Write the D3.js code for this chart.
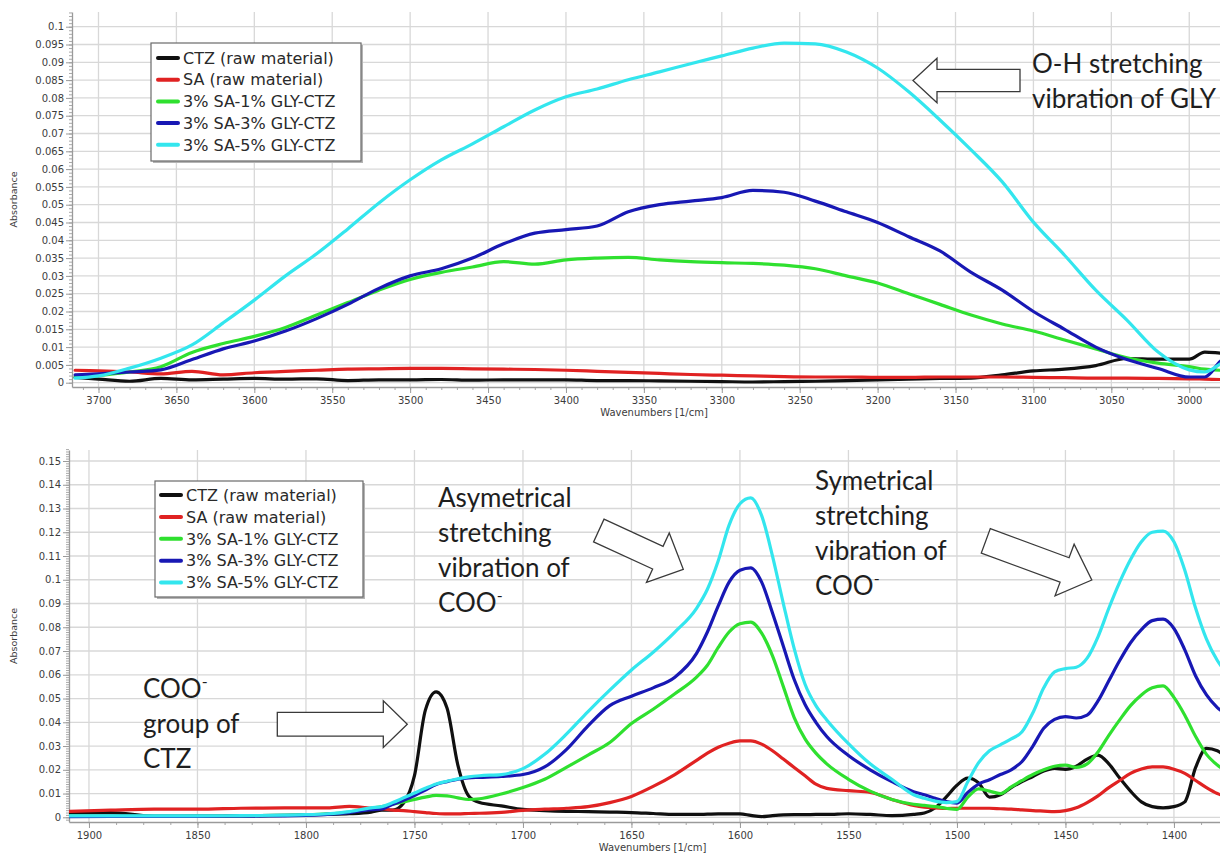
<!DOCTYPE html>
<html>
<head>
<meta charset="utf-8">
<script src="https://cdn.jsdelivr.net/npm/d3@7"></script>
<style>
  html, body { margin: 0; padding: 0; background: #ffffff; }
  svg { display: block; }
</style>
</head>
<body>
<svg id="chart" width="1220" height="856"></svg>
<script>
// ---------- series labels and colours ----------
const seriesNames = [
  "CTZ (raw material)",
  "SA (raw material)",
  "3% SA-1% GLY-CTZ",
  "3% SA-3% GLY-CTZ",
  "3% SA-5% GLY-CTZ"
];
const seriesColors = ["#101010", "#e02222", "#2fe02f", "#1818b4", "#33e6ee"];

// ---------- O-H region (upper panel) ----------
const wnTop = [
  3715, 3700, 3680, 3660, 3640, 3620, 3600, 3580, 3560, 3540,
  3520, 3500, 3480, 3460, 3440, 3420, 3400, 3380, 3360, 3340,
  3320, 3300, 3280, 3260, 3240, 3220, 3200, 3180, 3160, 3140,
  3120, 3100, 3080, 3060, 3040, 3020, 3000, 2990, 2980, 2970
];
const ctzTop = [
  .0015, .0010, .0004, .0012, .0008, .0010, .0012, .0010, .0011, .0006,
  .0008, .0008, .0009, .0007, .0008, .0008, .0008, .0006, .0006, .0005,
  .0004, .0003, .0002, .0003, .0004, .0006, .0008, .0010, .0012, .0013,
  .0022, .0033, .0038, .0048, .0068, .0066, .0066, .0086, .0083, .0080
];
const saTop = [
  .0035, .0033, .0030, .0025, .0032, .0022, .0028, .0032, .0035, .0038,
  .0039, .0040, .0040, .0039, .0038, .0037, .0035, .0032, .0029, .0026,
  .0023, .0021, .0019, .0017, .0016, .0016, .0015, .0015, .0016, .0016,
  .0016, .0015, .0014, .0013, .0013, .0012, .0011, .0010, .0009, .0008
];
const gly1Top = [
  .0015, .0020, .0030, .0045, .0085, .0110, .0130, .0155, .0190, .0225,
  .0260, .0290, .0310, .0325, .0340, .0333, .0345, .0350, .0352, .0345,
  .0340, .0337, .0335, .0330, .0320, .0300, .0280, .0250, .0220, .0190,
  .0165, .0145, .0120, .0095, .0070, .0055, .0045, .0038, .0035, .0035
];
const gly3Top = [
  .0022, .0025, .0030, .0036, .0065, .0095, .0117, .0145, .0180, .0220,
  .0265, .0300, .0320, .0350, .0390, .0420, .0430, .0440, .0480, .0500,
  .0510, .0520, .0540, .0535, .0510, .0480, .0450, .0410, .0370, .0310,
  .0260, .0200, .0150, .0100, .0065, .0040, .0016, .0016, .0060, .0090
];
const gly5Top = [
  .0013, .0019, .0041, .0069, .0106, .0168, .0232, .0300, .0362, .0432,
  .0505, .0570, .0626, .0671, .0719, .0766, .0803, .0825, .0851, .0873,
  .0896, .0918, .0940, .0954, .0952, .0929, .0884, .0817, .0738, .0654,
  .0564, .0451, .0358, .0260, .0176, .0086, .0036, .0030, .0053, .0080
];
const xTicksTop = [3700, 3650, 3600, 3550, 3500, 3450, 3400, 3350, 3300, 3250, 3200, 3150, 3100, 3050, 3000];
const yTicksTop = [0, 0.005, 0.01, 0.015, 0.02, 0.025, 0.03, 0.035, 0.04, 0.045, 0.05,
                   0.055, 0.06, 0.065, 0.07, 0.075, 0.08, 0.085, 0.09, 0.095, 0.1];

// ---------- carboxylate region (lower panel) ----------
const wnBot = [
  1909, 1890, 1870, 1850, 1830, 1810, 1800, 1790, 1780, 1770,
  1765, 1760, 1755, 1750, 1745, 1740, 1735, 1730, 1725, 1720,
  1710, 1700, 1690, 1680, 1670, 1660, 1650, 1640, 1630, 1620,
  1615, 1610, 1605, 1600, 1595, 1590, 1585, 1580, 1575, 1570,
  1565, 1560, 1550, 1540, 1530, 1520, 1515, 1510, 1505, 1500,
  1495, 1490, 1485, 1480, 1475, 1470, 1465, 1460, 1455, 1450,
  1445, 1440, 1435, 1430, 1425, 1420, 1415, 1410, 1405, 1400,
  1395, 1390, 1385, 1380, 1375, 1371
];
const ctzBot = [
  .0018, .0020, .0004, .0005, .0006, .0008, .0010, .0012, .0015, .0022,
  .0030, .0030, .0060, .0175, .0450, .0528, .0460, .0220, .0090, .0062,
  .0048, .0033, .0028, .0025, .0024, .0022, .0020, .0016, .0012, .0012,
  .0013, .0014, .0014, .0014, .0008, .0003, .0007, .0010, .0011, .0011,
  .0012, .0012, .0015, .0012, .0007, .0012, .0018, .0040, .0085, .0135,
  .0165, .0145, .0085, .0095, .0125, .0150, .0172, .0195, .0206, .0202,
  .0215, .0245, .0262, .0225, .0165, .0110, .0065, .0045, .0040, .0045,
  .0065, .0210, .0290, .0280, .0250, .0230
];
const saBot = [
  .0025, .0030, .0034, .0034, .0038, .0040, .0040, .0040, .0046, .0038,
  .0036, .0030, .0028, .0024, .0020, .0016, .0014, .0014, .0016, .0017,
  .0021, .0029, .0034, .0038, .0045, .0062, .0088, .0130, .0180, .0240,
  .0270, .0295, .0312, .0322, .0322, .0308, .0280, .0245, .0210, .0175,
  .0140, .0122, .0112, .0105, .0075, .0050, .0043, .0040, .0037, .0038,
  .0038, .0038, .0038, .0036, .0034, .0031, .0028, .0026, .0024, .0028,
  .0040, .0062, .0090, .0125, .0155, .0185, .0203, .0212, .0212, .0202,
  .0185, .0155, .0125, .0100, .0085, .0075
];
const gly1Bot = [
  .0005, .0005, .0005, .0005, .0006, .0008, .0010, .0014, .0022, .0038,
  .0045, .0055, .0065, .0075, .0085, .0092, .0090, .0082, .0075, .0078,
  .0098, .0125, .0160, .0210, .0262, .0315, .0395, .0455, .0520, .0590,
  .0640, .0715, .0780, .0815, .0822, .0775, .0680, .0550, .0420, .0330,
  .0270, .0225, .0160, .0110, .0075, .0055, .0050, .0045, .0038, .0033,
  .0085, .0120, .0110, .0100, .0128, .0155, .0180, .0200, .0215, .0220,
  .0210, .0225, .0275, .0345, .0410, .0470, .0515, .0545, .0553, .0505,
  .0430, .0340, .0265, .0220, .0190, .0175
];
const gly3Bot = [
  .0003, .0004, .0004, .0004, .0005, .0006, .0008, .0012, .0020, .0032,
  .0035, .0055, .0072, .0092, .0115, .0138, .0150, .0160, .0166, .0168,
  .0172, .0180, .0212, .0285, .0385, .0470, .0510, .0545, .0590, .0690,
  .0780, .0890, .0990, .1040, .1050, .0990, .0860, .0720, .0580, .0475,
  .0400, .0340, .0260, .0200, .0150, .0108, .0095, .0080, .0066, .0060,
  .0105, .0140, .0158, .0180, .0200, .0235, .0300, .0375, .0412, .0424,
  .0418, .0430, .0490, .0575, .0660, .0735, .0790, .0828, .0834, .0795,
  .0705, .0595, .0515, .0462, .0430, .0410
];
const gly5Bot = [
  .0006, .0006, .0006, .0006, .0007, .0009, .0011, .0015, .0024, .0040,
  .0045, .0062, .0082, .0102, .0122, .0140, .0152, .0162, .0170, .0175,
  .0180, .0205, .0265, .0350, .0445, .0535, .0620, .0695, .0780, .0880,
  .0960, .1080, .1230, .1320, .1345, .1270, .1100, .0900, .0710, .0560,
  .0470, .0410, .0310, .0225, .0160, .0095, .0080, .0068, .0062, .0066,
  .0150, .0230, .0280, .0305, .0330, .0360, .0440, .0545, .0612, .0626,
  .0632, .0670, .0760, .0880, .0990, .1085, .1160, .1200, .1205, .1160,
  .1040, .0880, .0750, .0660, .0600, .0560
];
const xTicksBot = [1900, 1850, 1800, 1750, 1700, 1650, 1600, 1550, 1500, 1450, 1400];
const yTicksBot = [0, 0.01, 0.02, 0.03, 0.04, 0.05, 0.06, 0.07, 0.08, 0.09,
                   0.1, 0.11, 0.12, 0.13, 0.14, 0.15];

// ---------- drawing ----------
const svg = d3.select("#chart");
const axisFont = "'DejaVu Sans', Verdana, sans-serif";
const noteFont = "Lato, 'Open Sans', sans-serif";
const fmtTick = d => String(+d.toFixed(3));

function drawPanel(p) {
  const g = svg.append("g");
  const x = d3.scaleLinear().domain(p.xDomain).range([p.left, p.right]);
  const y = d3.scaleLinear().domain(p.yDomain).range([p.bottom, p.top]);

  // grid
  g.append("g").selectAll("line").data(p.yTicks).join("line")
    .attr("x1", p.left).attr("x2", p.right)
    .attr("y1", d => y(d)).attr("y2", d => y(d))
    .attr("stroke", "#d8d8d8").attr("stroke-width", 1.3);
  g.append("g").selectAll("line").data(p.xTicks).join("line")
    .attr("x1", d => x(d)).attr("x2", d => x(d))
    .attr("y1", p.top).attr("y2", p.bottom)
    .attr("stroke", "#d8d8d8").attr("stroke-width", 1.3);

  // minor ticks
  const yMinor = d3.range(Math.round(p.yDomain[0] / p.yMinorStep) + 1, Math.round(p.yDomain[1] / p.yMinorStep) + 1)
    .map(i => +(i * p.yMinorStep).toFixed(4));
  const xMinor = d3.range(Math.ceil(p.xDomain[1] / p.xMinorStep), Math.floor(p.xDomain[0] / p.xMinorStep) + 1)
    .map(i => i * p.xMinorStep);
  const yMinorAxis = d3.axisLeft(y).tickValues(yMinor).tickSize(3).tickSizeOuter(0).tickFormat("");
  const xMinorAxis = d3.axisBottom(x).tickValues(xMinor).tickSize(3).tickSizeOuter(0).tickFormat("");
  const gym = g.append("g").attr("transform", `translate(${p.left},0)`).call(yMinorAxis);
  const gxm = g.append("g").attr("transform", `translate(0,${p.bottom})`).call(xMinorAxis);
  [gym, gxm].forEach(a => { a.select(".domain").remove(); a.selectAll("line").attr("stroke", "#a8a8a8"); });

  // major axes
  const yAxis = d3.axisLeft(y).tickValues(p.yTicks).tickFormat(fmtTick).tickSize(6).tickSizeOuter(0).tickPadding(2);
  const xAxis = d3.axisBottom(x).tickValues(p.xTicks).tickFormat(d3.format("d")).tickSize(6).tickSizeOuter(0).tickPadding(4);
  const gy = g.append("g").attr("transform", `translate(${p.left},0)`).call(yAxis);
  const gx = g.append("g").attr("transform", `translate(0,${p.bottom})`).call(xAxis);
  [gy, gx].forEach(a => {
    a.select(".domain").attr("stroke", "#9a9a9a").attr("stroke-width", 1.3);
    a.selectAll(".tick line").attr("stroke", "#9a9a9a");
    a.selectAll("text").attr("fill", "#3c3c3c").style("font-family", axisFont).style("font-size", "10px");
  });

  // axis titles
  g.append("text")
    .attr("x", (p.left + p.right) / 2).attr("y", p.bottom + 29)
    .attr("text-anchor", "middle").attr("fill", "#3c3c3c")
    .style("font-family", axisFont).style("font-size", "10px")
    .text("Wavenumbers [1/cm]");
  g.append("text")
    .attr("transform", `translate(17,${(p.top + p.bottom) / 2}) rotate(-90)`)
    .attr("text-anchor", "middle").attr("fill", "#3c3c3c")
    .style("font-family", axisFont).style("font-size", "9.5px")
    .text("Absorbance");

  // spectra
  const clipId = "clip-" + p.id;
  g.append("clipPath").attr("id", clipId).append("rect")
    .attr("x", p.left).attr("y", p.top).attr("width", p.right - p.left).attr("height", p.bottom - p.top);
  const line = d3.line().x(d => x(d[0])).y(d => y(d[1])).curve(d3.curveMonotoneX);
  const lg = g.append("g").attr("clip-path", `url(#${clipId})`);
  p.series.forEach((vals, i) => {
    lg.append("path")
      .datum(p.wn.map((w, k) => [w, vals[k]]))
      .attr("d", line)
      .attr("fill", "none")
      .attr("stroke", seriesColors[i])
      .attr("stroke-width", 3.2)
      .attr("stroke-linejoin", "round")
      .attr("stroke-linecap", "round");
  });

  // legend
  const L = p.legend;
  const lgd = g.append("g").attr("transform", `translate(${L.x},${L.y})`);
  lgd.append("rect").attr("x", 2).attr("y", 2).attr("width", L.w).attr("height", L.h).attr("fill", "#b4b4b4");
  lgd.append("rect").attr("width", L.w).attr("height", L.h).attr("fill", "#ffffff")
    .attr("stroke", "#6a6a6a").attr("stroke-width", 1.2);
  seriesNames.forEach((name, i) => {
    const cy = L.first + i * L.step;
    lgd.append("line").attr("x1", L.lineX).attr("x2", L.lineX + 20).attr("y1", cy).attr("y2", cy)
      .attr("stroke", seriesColors[i]).attr("stroke-width", 4).attr("stroke-linecap", "round");
    lgd.append("text").attr("x", L.textX).attr("y", cy).attr("dy", "0.36em")
      .attr("fill", "#2a2a2a").style("font-family", axisFont).style("font-size", "16px")
      .text(name);
  });
  return g;
}

drawPanel({
  id: "oh", left: 72, right: 1236, top: 12, bottom: 387,
  xDomain: [3717, 2970], yDomain: [-0.00121, 0.10413],
  xTicks: xTicksTop, yTicks: yTicksTop, xMinorStep: 10, yMinorStep: 0.001,
  wn: wnTop, series: [ctzTop, saTop, gly1Top, gly3Top, gly5Top],
  legend: { x: 151, y: 43, w: 210, h: 118, first: 15, step: 21.7, lineX: 7, textX: 32 }
});
drawPanel({
  id: "coo", left: 69, right: 1236, top: 450, bottom: 822,
  xDomain: [1909.2, 1371.4], yDomain: [-0.00198, 0.15463],
  xTicks: xTicksBot, yTicks: yTicksBot, xMinorStep: 12.5, yMinorStep: 0.001,
  wn: wnBot, series: [ctzBot, saBot, gly1Bot, gly3Bot, gly5Bot],
  legend: { x: 155, y: 481, w: 208, h: 116, first: 14, step: 21.9, lineX: 6, textX: 31 }
});

// ---------- annotations ----------
const notes = svg.append("g").attr("fill", "#1e1e1e")
  .style("font-family", noteFont).style("font-size", "26px");

function noteBlock(x0, baseline, lines, step) {
  lines.forEach((ln, i) => {
    const t = notes.append("text").attr("x", x0).attr("y", baseline + i * step);
    t.append("tspan").text(ln.text);
    if (ln.sup) t.append("tspan").attr("dy", -11).style("font-size", "16px").text(ln.sup);
  });
}
noteBlock(1032, 73, [{ text: "O-H stretching" }, { text: "vibration of GLY" }], 35);
noteBlock(143, 698, [{ text: "COO", sup: "-" }, { text: "group of" }, { text: "CTZ" }], 35);
noteBlock(438, 507, [{ text: "Asymetrical" }, { text: "stretching" }, { text: "vibration of" }, { text: "COO", sup: "-" }], 35);
noteBlock(815, 490, [{ text: "Symetrical" }, { text: "stretching" }, { text: "vibration of" }, { text: "COO", sup: "-" }], 35);

// hollow block arrows, drawn along +x then rotated into place
function blockArrow(cx, cy, angle, len, shaft, head, headLen) {
  const s = shaft / 2, h = head / 2, b = len - headLen;
  const pts = [[0, -s], [b, -s], [b, -h], [len, 0], [b, h], [b, s], [0, s]];
  svg.append("polygon")
    .attr("points", pts.map(q => q.join(",")).join(" "))
    .attr("transform", `translate(${cx},${cy}) rotate(${angle})`)
    .attr("fill", "#ffffff").attr("stroke", "#3a3a3a").attr("stroke-width", 1.3)
    .attr("stroke-linejoin", "miter");
}
blockArrow(1020, 80.5, 180, 107, 22.4, 44.7, 24);
blockArrow(277.3, 724.2, 0, 130, 23.7, 46.7, 24);
blockArrow(598.8, 530.5, 24.7, 93, 25, 54.5, 28);
blockArrow(985.8, 540.8, 20.3, 113, 26, 55, 29);
</script>
</body>
</html>
